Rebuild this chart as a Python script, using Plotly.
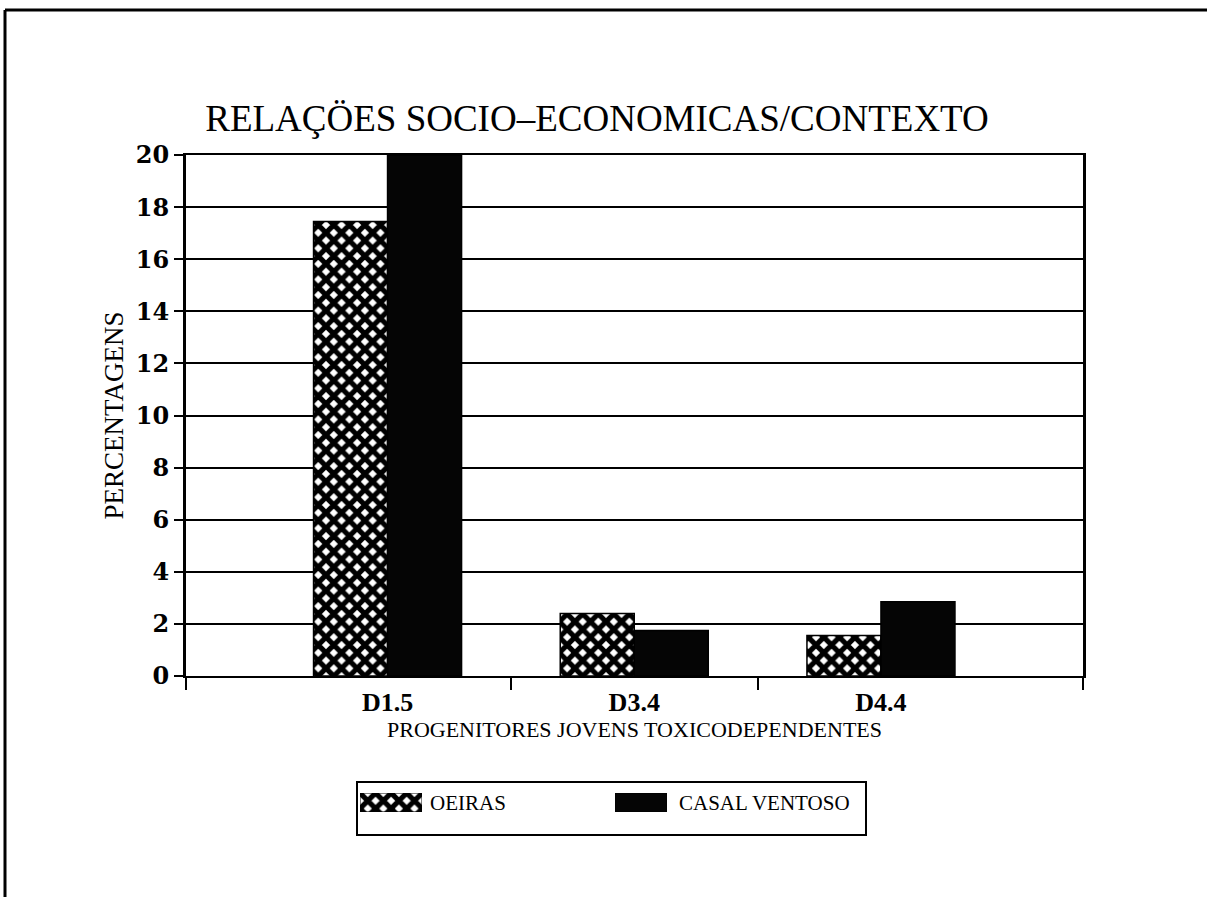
import plotly.graph_objects as go

# ---- data -------------------------------------------------------------
categories = ["D1.5", "D3.4", "D4.4"]
oeiras = [17.45, 2.4, 1.55]
casal_ventoso = [20.0, 1.75, 2.85]
y_tick_values = [0, 2, 4, 6, 8, 10, 12, 14, 16, 18, 20]
series_names = ["OEIRAS", "CASAL VENTOSO"]

# ---- geometry (pixels in a 1207 x 897 page) ---------------------------
W, H = 1207, 897
PL, PR, PT, PB = 186, 1083, 155, 676          # plot-area box


def fx(px):
    return px / W


def fy(py):
    return 1 - py / H


x_pos = list(range(len(categories)))
x_range = [-0.817, 2.819]

SERIF = "Liberation Serif, Times New Roman, serif"
BOLD_SERIF = "DejaVu Serif, serif"

hatch = dict(shape="x", fgcolor="black", fgopacity=1, bgcolor="white", size=11, solidity=0.72)

fig = go.Figure()

fig.add_trace(go.Bar(
    x=x_pos, y=oeiras, name=series_names[0],
    marker=dict(color="white", pattern=hatch, line=dict(color="black", width=1.5)),
    showlegend=False, xaxis="x", yaxis="y",
))
fig.add_trace(go.Bar(
    x=x_pos, y=casal_ventoso, name=series_names[1],
    marker=dict(color="#050505", line=dict(color="black", width=1.5)),
    showlegend=False, xaxis="x", yaxis="y",
))

# legend swatches drawn as single full-cell bars in tiny subplots
fig.add_trace(go.Bar(
    x=[0], y=[1], width=[1], name=series_names[0],
    marker=dict(color="white", pattern=hatch, line=dict(color="black", width=1)),
    showlegend=False, xaxis="x2", yaxis="y2", hoverinfo="skip",
))
fig.add_trace(go.Bar(
    x=[0], y=[1], width=[1], name=series_names[1],
    marker=dict(color="#050505", line=dict(color="black", width=1)),
    showlegend=False, xaxis="x3", yaxis="y3", hoverinfo="skip",
))

hidden = dict(visible=False, fixedrange=True)

fig.update_layout(
    width=W, height=H,
    margin=dict(l=0, r=0, t=0, b=0),
    paper_bgcolor="white", plot_bgcolor="white",
    barmode="group", bargap=0.4, bargroupgap=0.0,
    title=dict(
        text="RELAÇÖES SOCIO–ECONOMICAS/CONTEXTO",
        x=fx(597), xanchor="center", xref="paper",
        y=fy(118), yanchor="middle", yref="container",
        font=dict(family=SERIF, size=37, color="black"),
    ),
    xaxis=dict(
        domain=[fx(PL), fx(PR)], range=x_range,
        tickmode="array", tickvals=x_pos, ticktext=categories,
        ticks="outside", ticklen=2, tickcolor="rgba(0,0,0,0)",
        tickfont=dict(family=SERIF, size=26, color="black", weight="bold"),
        minor=dict(tickmode="array", tickvals=[x_range[0], 0.5, 1.5, x_range[1]],
                   ticks="outside", ticklen=12, tickwidth=2, tickcolor="black",
                   showgrid=False),
        showgrid=False, zeroline=False,
        showline=True, linecolor="black", linewidth=2, mirror=True,
        title=dict(text="PROGENITORES JOVENS TOXICODEPENDENTES",
                   font=dict(family=SERIF, size=22, color="black"), standoff=1),
        automargin=False, fixedrange=True,
    ),
    yaxis=dict(
        domain=[fy(PB), fy(PT)], range=[0, 20],
        tickmode="array", tickvals=y_tick_values,
        ticks="outside", ticklen=9, tickwidth=2, tickcolor="black",
        tickfont=dict(family=BOLD_SERIF, size=24, color="black", weight="bold"),
        showgrid=True, gridcolor="black", gridwidth=2,
        zeroline=False,
        showline=True, linecolor="black", linewidth=3, mirror=True,
        title=dict(text="PERCENTAGENS",
                   font=dict(family=SERIF, size=27, color="black"), standoff=5),
        automargin=False, fixedrange=True,
    ),
    xaxis2=dict(domain=[fx(360), fx(422)], range=[-0.5, 0.5], anchor="y2", **hidden),
    yaxis2=dict(domain=[fy(812), fy(793)], range=[0, 1], anchor="x2", **hidden),
    xaxis3=dict(domain=[fx(615), fx(667)], range=[-0.5, 0.5], anchor="y3", **hidden),
    yaxis3=dict(domain=[fy(812), fy(793)], range=[0, 1], anchor="x3", **hidden),
    showlegend=False,
)

# legend frame and labels
fig.add_shape(type="rect", xref="paper", yref="paper",
              x0=fx(357), x1=fx(866), y0=fy(835), y1=fy(782),
              line=dict(color="black", width=2), fillcolor="rgba(0,0,0,0)", layer="below")
fig.add_annotation(text=series_names[0], xref="paper", yref="paper",
                   x=fx(428), y=fy(803), xanchor="left", yanchor="middle",
                   showarrow=False, font=dict(family=SERIF, size=21, color="black"))
fig.add_annotation(text=series_names[1], xref="paper", yref="paper",
                   x=fx(677), y=fy(803), xanchor="left", yanchor="middle",
                   showarrow=False, font=dict(family=SERIF, size=21, color="black"))

# page border (top and left edges)
fig.add_shape(type="line", xref="paper", yref="paper",
              x0=fx(5), x1=1, y0=fy(10), y1=fy(10),
              line=dict(color="black", width=3))
fig.add_shape(type="line", xref="paper", yref="paper",
              x0=fx(5), x1=fx(5), y0=0, y1=fy(10),
              line=dict(color="black", width=3))

fig.write_html("out.html")
